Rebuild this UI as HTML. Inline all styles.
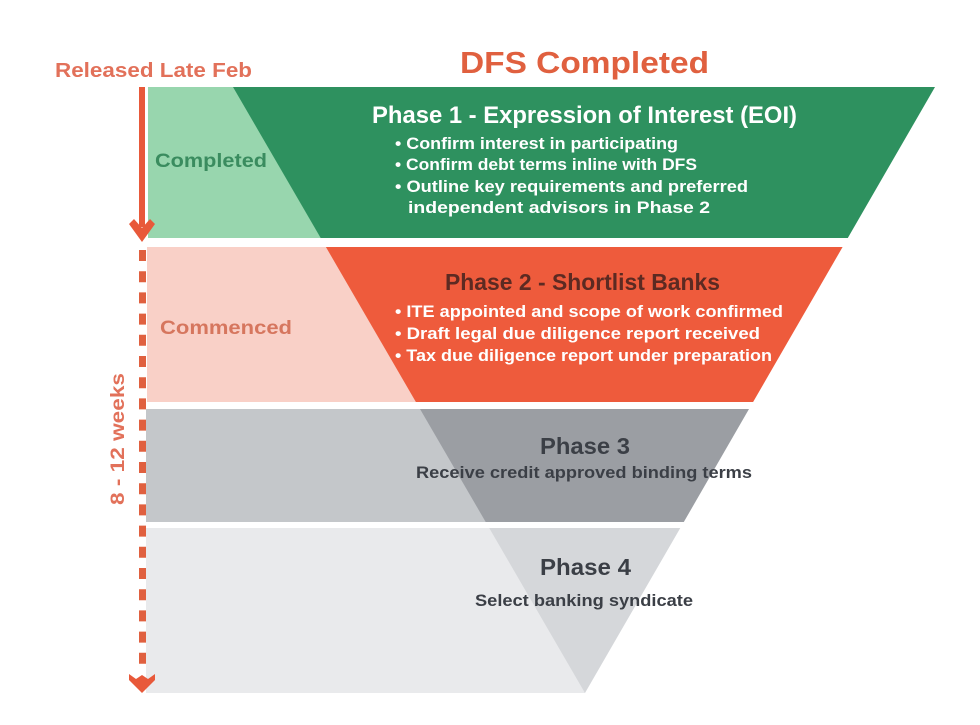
<!DOCTYPE html>
<html>
<head>
<meta charset="utf-8">
<style>
  html, body { margin: 0; padding: 0; background: #ffffff; }
  svg { display: block; }
  text { font-family: "Liberation Sans", sans-serif; font-weight: bold; }
</style>
</head>
<body>
<svg width="980" height="725" viewBox="0 0 980 725" xmlns="http://www.w3.org/2000/svg">
  <rect x="0" y="0" width="980" height="725" fill="#ffffff"/>

  <!-- Band backgrounds (left, light) -->
  <rect x="148" y="87" width="437" height="151" fill="#98d6ae"/>
  <rect x="147" y="247" width="438" height="155" fill="#f9d0c7"/>
  <rect x="146" y="409" width="439" height="113" fill="#c4c7ca"/>
  <rect x="146" y="528" width="439" height="165" fill="#e9eaec"/>

  <!-- Funnel segments -->
  <polygon points="233,87 935,87 847.8,238 320.7,238" fill="#2e915f"/>
  <polygon points="325.9,247 842.6,247 753.1,402 415.9,402" fill="#ee5b3c"/>
  <polygon points="420,409 749,409 683.8,522 485.7,522" fill="#9b9ea3"/>
  <polygon points="489.2,528 680.3,528 585,693" fill="#d5d7da"/>

  <!-- Headings -->
  <text x="55" y="77" font-size="20" fill="#e2715a" textLength="197" lengthAdjust="spacingAndGlyphs">Released Late Feb</text>
  <text x="460" y="73" font-size="31" fill="#e0603f" textLength="249" lengthAdjust="spacingAndGlyphs">DFS Completed</text>

  <!-- Solid arrow (completed) -->
  <rect x="139" y="87" width="6" height="140" fill="#e8593a"/>
  <polygon points="129,224 134,219 142,228 150,219 155,224 142,242" fill="#e8593a"/>

  <!-- Dashed arrow -->
  <line x1="142.5" y1="250" x2="142.5" y2="666" stroke="#e0603f" stroke-width="7" stroke-dasharray="11 10.2"/>
  <polygon points="129,674 136,679 142,675 148,679 155,674 155,680 142,693 129,680" fill="#e8593a"/>

  <!-- 8 - 12 weeks -->
  <text transform="translate(124,505) rotate(-90)" x="0" y="0" font-size="19" fill="#e2715a" textLength="132" lengthAdjust="spacingAndGlyphs">8 - 12 weeks</text>

  <!-- Phase 1 -->
  <text x="155" y="167" font-size="19" fill="#3a8c5f" textLength="112" lengthAdjust="spacingAndGlyphs">Completed</text>
  <text x="372" y="123" font-size="24" fill="#ffffff" textLength="425" lengthAdjust="spacingAndGlyphs">Phase 1 - Expression of Interest (EOI)</text>
  <text x="395" y="149" font-size="16.5" fill="#ffffff" textLength="283" lengthAdjust="spacingAndGlyphs">• Confirm interest in participating</text>
  <text x="395" y="170" font-size="16.5" fill="#ffffff" textLength="302" lengthAdjust="spacingAndGlyphs">• Confirm debt terms inline with DFS</text>
  <text x="395" y="192" font-size="16.5" fill="#ffffff" textLength="353" lengthAdjust="spacingAndGlyphs">• Outline key requirements and preferred</text>
  <text x="408" y="213" font-size="16.5" fill="#ffffff" textLength="302" lengthAdjust="spacingAndGlyphs">independent advisors in Phase 2</text>

  <!-- Phase 2 -->
  <text x="160" y="334" font-size="19" fill="#d6765e" textLength="132" lengthAdjust="spacingAndGlyphs">Commenced</text>
  <text x="445" y="290" font-size="23" fill="#5c2a22" textLength="275" lengthAdjust="spacingAndGlyphs">Phase 2 - Shortlist Banks</text>
  <text x="395" y="317" font-size="16.5" fill="#ffffff" textLength="388" lengthAdjust="spacingAndGlyphs">• ITE appointed and scope of work confirmed</text>
  <text x="395" y="339" font-size="16.5" fill="#ffffff" textLength="365" lengthAdjust="spacingAndGlyphs">• Draft legal due diligence report received</text>
  <text x="395" y="361" font-size="16.5" fill="#ffffff" textLength="377" lengthAdjust="spacingAndGlyphs">• Tax due diligence report under preparation</text>

  <!-- Phase 3 -->
  <text x="540" y="454" font-size="23" fill="#3b3f46" textLength="90" lengthAdjust="spacingAndGlyphs">Phase 3</text>
  <text x="416" y="478" font-size="16.5" fill="#3b3f46" textLength="336" lengthAdjust="spacingAndGlyphs">Receive credit approved binding terms</text>

  <!-- Phase 4 -->
  <text x="540" y="575" font-size="23" fill="#3b3f46" textLength="91" lengthAdjust="spacingAndGlyphs">Phase 4</text>
  <text x="475" y="606" font-size="16.5" fill="#3b3f46" textLength="218" lengthAdjust="spacingAndGlyphs">Select banking syndicate</text>
</svg>
</body>
</html>
